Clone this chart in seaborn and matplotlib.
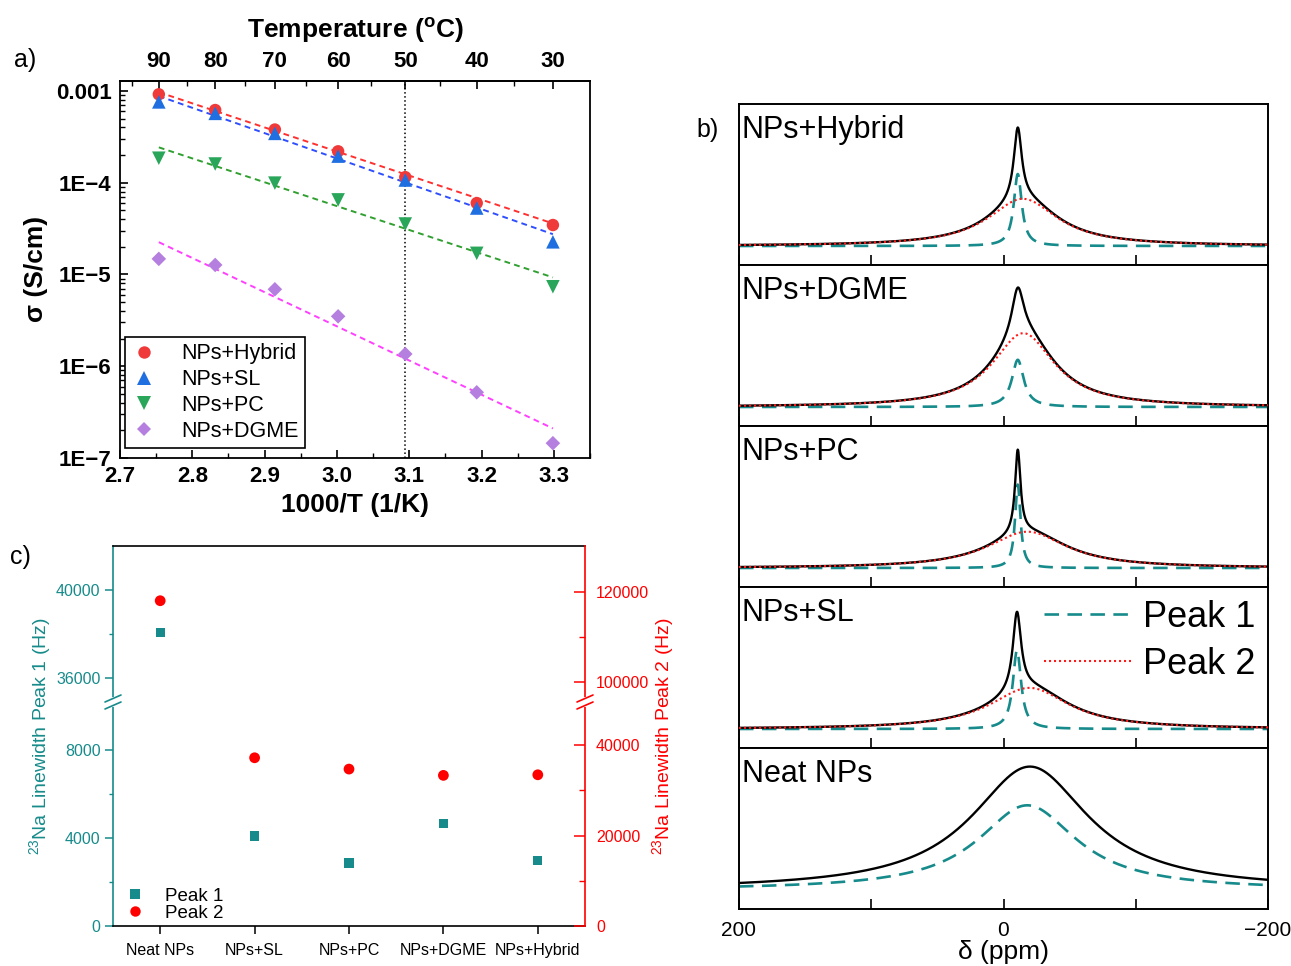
import numpy as np
import matplotlib
matplotlib.use("Agg")
import matplotlib.pyplot as plt
import seaborn as sns
from matplotlib.lines import Line2D

# ---------------- data ----------------
# panel a: conductivity vs 1000/T
temps_c = [90, 80, 70, 60, 50, 40, 30]
temps_minor_c = [95, 85, 75, 65, 55, 45, 35]
a_series = ["NPs+Hybrid", "NPs+SL", "NPs+PC", "NPs+DGME"]
sigma_hybrid = [9.2e-4, 6.2e-4, 3.8e-4, 2.2e-4, 1.15e-4, 6.0e-5, 3.46e-5]
sigma_sl = [7.6e-4, 5.7e-4, 3.45e-4, 1.95e-4, 1.07e-4, 5.3e-5, 2.27e-5]
sigma_pc = [1.85e-4, 1.6e-4, 9.9e-5, 6.5e-5, 3.55e-5, 1.7e-5, 7.35e-6]
sigma_dgme = [1.48e-5, 1.27e-5, 6.9e-6, 3.5e-6, 1.36e-6, 5.2e-7, 1.45e-7]
fit_start = [9.7e-4, 8.8e-4, 2.43e-4, 2.25e-5]   # fit value at 90 C
fit_end = [3.6e-5, 2.75e-5, 9.3e-6, 2.1e-7]      # fit value at 30 C
a_xticks = [2.7, 2.8, 2.9, 3.0, 3.1, 3.2, 3.3]
a_yticks = [1e-7, 1e-6, 1e-5, 1e-4, 1e-3]
a_yticklabels = ["1E\u22127", "1E\u22126", "1E\u22125", "1E\u22124", "0.001"]

# panel b: 23Na NMR line shapes (Lorentzian fit parameters)
spec_labels = ["NPs+Hybrid", "NPs+DGME", "NPs+PC", "NPs+SL", "Neat NPs"]
p1_center = [-10.8, -10.8, -10.8, -10.2, -18.0]
p1_fwhm = [7.3, 10.8, 5.0, 7.6, 91.0]
p1_height = [0.595, 0.39, 0.69, 0.65, 0.70]
p2_center = [-14.6, -15.0, -18.0, -19.6, np.nan]
p2_fwhm = [64.0, 57.0, 73.0, 73.0, np.nan]
p2_height = [0.39, 0.61, 0.30, 0.34, 0.0]
neat_obs_center, neat_obs_fwhm, neat_obs_height = -20.0, 108.0, 1.02
b_xticks = [200, 100, 0, -100, -200]
b_xticklabels = ["200", "", "0", "", "\u2212200"]

# panel c: linewidths
c_categories = ["Neat NPs", "NPs+SL", "NPs+PC", "NPs+DGME", "NPs+Hybrid"]
peak1_hz = [38060, 4090, 2870, 4665, 2990]
peak2_hz = [118000, 37190, 34690, 33300, 33430]

# ---------------- style ----------------
sns.set_theme(style="ticks")
plt.rcParams['font.family'] = ['Liberation Sans', 'DejaVu Sans']
plt.rcParams.update({
    'mathtext.fontset': 'custom',
    'mathtext.rm': 'Liberation Sans',
    'mathtext.it': 'Liberation Sans:italic',
    'mathtext.bf': 'Liberation Sans:bold',
    'axes.edgecolor': 'black',
    'xtick.color': 'black',
    'ytick.color': 'black',
    'text.color': 'black',
    'axes.labelcolor': 'black',
})

TEAL = '#178b8b'
RED = '#ff1a1a'

W, H = 1291, 966
fig = plt.figure(figsize=(W / 100, H / 100), dpi=100)


def fx(px):
    return px / W


def fy(py):
    return 1 - py / H


def rect(l, t, r, b):
    return [l / W, 1 - b / H, (r - l) / W, (b - t) / H]


# ================= panel a =================
axa = fig.add_axes(rect(120, 80.7, 590, 458))
invT = [1000.0 / (t + 273.15) for t in temps_c]
a_vals = [sigma_hybrid, sigma_sl, sigma_pc, sigma_dgme]
a_markers = ['o', '^', 'v', 'D']
a_mcolors = ['#f03a3a', '#1f6fe0', '#2aa65a', '#b57fe0']
a_lcolors = ['#ff3030', '#2f4fff', '#30a030', '#ff40ff']
a_sizes = [80, 95, 95, 55]

for i in range(len(a_series)):
    sns.lineplot(x=[invT[0], invT[-1]], y=[fit_start[i], fit_end[i]], ax=axa,
                 color=a_lcolors[i], lw=1.4, linestyle=(0, (3, 2.2)), zorder=2)
handles_a = []
for i, name in enumerate(a_series):
    sns.scatterplot(x=invT, y=a_vals[i], ax=axa, marker=a_markers[i],
                    color=a_mcolors[i], s=a_sizes[i], edgecolor='none', zorder=3)
    handles_a.append(Line2D([], [], ls='none', marker=a_markers[i], color=a_mcolors[i],
                            markersize=np.sqrt(a_sizes[i]), markeredgewidth=0))

axa.axvline(1000.0 / (50 + 273.15), color='black', ls=':', lw=1.1, zorder=1)
axa.set_yscale('log')
axa.set_xlim(2.7, 3.35)
axa.set_ylim(1e-7, 1.294e-3)
axa.set_yticks(a_yticks)
axa.set_yticklabels(a_yticklabels)
axa.yaxis.set_minor_locator(matplotlib.ticker.LogLocator(base=10, subs=np.arange(2, 10)))
axa.yaxis.set_minor_formatter(matplotlib.ticker.NullFormatter())
axa.set_xticks(a_xticks)
axa.set_xticklabels([f"{v:.1f}" for v in a_xticks])
axa.set_xticks([v + 0.05 for v in a_xticks[:-1]] + [3.35], minor=True)
axa.tick_params(axis='both', which='both', direction='in', top=False, right=False)
axa.tick_params(axis='both', which='major', length=6, width=1.2, labelsize=16, pad=6)
axa.tick_params(axis='both', which='minor', length=3.5, width=1.0)
for lab in axa.get_xticklabels() + axa.get_yticklabels():
    lab.set_fontweight('bold')
for s in axa.spines.values():
    s.set_linewidth(1.3)
axa.set_xlabel("1000/T (1/K)", fontsize=19, fontweight='bold', labelpad=4)
axa.set_ylabel("\u03c3 (S/cm)", fontsize=19, fontweight='bold', labelpad=6)


def inv2c(x):
    x = np.asarray(x, dtype=float)
    with np.errstate(divide='ignore', invalid='ignore'):
        return 1000.0 / x - 273.15


def c2inv(t):
    t = np.asarray(t, dtype=float)
    with np.errstate(divide='ignore', invalid='ignore'):
        return 1000.0 / (t + 273.15)


sec = axa.secondary_xaxis('top', functions=(inv2c, c2inv))
sec.set_xticks(temps_c)
sec.set_xticklabels([str(t) for t in temps_c])
sec.set_xticks(temps_minor_c, minor=True)
sec.tick_params(axis='x', which='both', direction='in')
sec.tick_params(axis='x', which='major', length=6, width=1.2, labelsize=16, pad=6)
sec.tick_params(axis='x', which='minor', length=3.5, width=1.0)
for lab in sec.get_xticklabels():
    lab.set_fontweight('bold')
sec.set_xlabel("Temperature ($\\mathbf{^{o}}$C)", fontsize=19, fontweight='bold', labelpad=10)

leg_a = axa.legend(handles=handles_a, labels=a_series, loc='lower left',
                   bbox_to_anchor=(fx(125), fy(448)), bbox_transform=fig.transFigure,
                   borderaxespad=0, frameon=True, fancybox=False, edgecolor='black',
                   framealpha=1, fontsize=15.5, handlelength=1.2, handletextpad=1.1,
                   labelspacing=0.22, borderpad=0.3)
leg_a.get_frame().set_linewidth(1.2)

fig.text(fx(25), fy(60), "a)", fontsize=18, ha='center', va='center')

# ================= panel b =================
b_top, b_bottom, b_left, b_right = 104, 909, 739, 1268
ph = (b_bottom - b_top) / 5
ppm = np.linspace(200, -200, 1601)


def lorentz(x, c, w, h):
    if not np.isfinite(c):
        return np.zeros_like(x)
    return h / (1 + ((x - c) / (w / 2.0)) ** 2)


axes_b = []
for i, name in enumerate(spec_labels):
    t = b_top + i * ph
    ax = fig.add_axes(rect(b_left, t, b_right, t + ph))
    axes_b.append(ax)
    p1 = lorentz(ppm, p1_center[i], p1_fwhm[i], p1_height[i])
    p2 = lorentz(ppm, p2_center[i], p2_fwhm[i], p2_height[i])
    if name == "Neat NPs":
        total = lorentz(ppm, neat_obs_center, neat_obs_fwhm, neat_obs_height)
    else:
        total = p1 + p2
    sns.lineplot(x=ppm, y=p1, ax=ax, color=TEAL, lw=1.9, linestyle=(0, (5.5, 3.2)),
                 sort=False, estimator=None, zorder=2)
    sns.lineplot(x=ppm, y=total, ax=ax, color='black', lw=1.7, sort=False,
                 estimator=None, zorder=3)
    if name != "Neat NPs":
        sns.lineplot(x=ppm, y=p2, ax=ax, color=RED, lw=1.5, linestyle=(0, (1, 1.4)),
                     sort=False, estimator=None, zorder=4)
    ax.set_xlim(200, -200)
    ax.set_ylim(-19 / 121, 142 / 121)
    ax.set_yticks([])
    ax.set_xticks(b_xticks)
    ax.tick_params(axis='x', direction='in', length=7, width=1.2, top=False,
                   labelsize=15, pad=9)
    if i == len(spec_labels) - 1:
        ax.set_xticklabels(b_xticklabels)
        ax.set_xlabel("\u03b4 (ppm)", fontsize=19, labelpad=0)
    else:
        ax.set_xticklabels([])
    for s in ax.spines.values():
        s.set_linewidth(1.4)
    ax.set_ylabel("")
    fig.text(fx(742), fy(t + 34), name, fontsize=22, ha='left', va='baseline')

leg_b = axes_b[3].legend(
    handles=[Line2D([], [], color=TEAL, lw=1.9, ls=(0, (5.5, 3.2))),
             Line2D([], [], color=RED, lw=1.5, ls=(0, (1, 1.4)))],
    labels=["Peak 1", "Peak 2"], loc='upper left',
    bbox_to_anchor=(fx(1044), fy(600)), bbox_transform=fig.transFigure,
    frameon=False, fontsize=26, handlelength=2.4, handletextpad=0.35,
    labelspacing=0.32, borderpad=0, borderaxespad=0)

fig.text(fx(708), fy(130), "b)", fontsize=18, ha='center', va='center')

# ================= panel c =================
c_x = np.arange(len(c_categories))
cb = fig.add_axes(rect(113, 702, 585, 926))
ct = fig.add_axes(rect(113, 546, 585, 702), sharex=cb)
cbr = cb.twinx()
ctr = ct.twinx()

for ax in (cb, ct):
    sns.scatterplot(x=c_x, y=peak1_hz, ax=ax, marker='s', color=TEAL, s=45,
                    edgecolor='none', zorder=3)
for ax in (cbr, ctr):
    sns.scatterplot(x=c_x, y=peak2_hz, ax=ax, marker='o', color='#ff0000', s=60,
                    edgecolor='none', zorder=3)

cb.set_xlim(-0.5, 4.5)
cb.set_ylim(0, 10190)
ct.set_ylim(34890, 42030)
cbr.set_ylim(0, 49520)
ctr.set_ylim(95490, 130160)

cb.set_yticks([0, 4000, 8000])
cb.set_yticks([2000, 6000], minor=True)
ct.set_yticks([36000, 40000])
ct.set_yticks([38000], minor=True)
cbr.set_yticks([0, 20000, 40000])
cbr.set_yticks([10000, 30000], minor=True)
ctr.set_yticks([100000, 120000])
ctr.set_yticks([110000], minor=True)

cb.set_xticks(c_x)
cb.set_xticklabels(c_categories)
cb.tick_params(axis='x', direction='out', length=6, width=1.1, labelsize=11.5, pad=6)
ct.tick_params(axis='x', bottom=False, labelbottom=False, top=False)

for ax in (cb, ct):
    ax.tick_params(axis='y', which='both', direction='out', colors=TEAL, labelsize=11.5,
                   pad=3)
    ax.tick_params(axis='y', which='major', length=6, width=1.1)
    ax.tick_params(axis='y', which='minor', length=3, width=1.0)
    ax.spines['left'].set_color(TEAL)
    ax.spines['right'].set_visible(False)
    ax.spines['left'].set_linewidth(1.2)
    ax.set_ylabel("")
for ax in (cbr, ctr):
    ax.tick_params(axis='y', which='both', direction='in', colors='#ff0000', labelsize=11.5,
                   pad=8)
    ax.tick_params(axis='y', which='major', length=8, width=1.1)
    ax.tick_params(axis='y', which='minor', length=4, width=1.0)
    ax.spines['right'].set_color('#ff0000')
    ax.spines['right'].set_linewidth(1.2)
    for side in ('left', 'top', 'bottom'):
        ax.spines[side].set_visible(False)
    ax.set_ylabel("")
cb.spines['top'].set_visible(False)
ct.spines['bottom'].set_visible(False)
cb.spines['bottom'].set_linewidth(1.2)
ct.spines['top'].set_linewidth(1.2)

# axis break marks
for xb, col in ((113, TEAL), (585, '#ff0000')):
    yb = 702
    fig.add_artist(Line2D([fx(xb), fx(xb)], [fy(yb - 3), fy(yb + 3)], color='white',
                          lw=3, transform=fig.transFigure))
    for off in (-3.5, 3.5):
        fig.add_artist(Line2D([fx(xb - 8), fx(xb + 8)], [fy(yb + off + 3.5), fy(yb + off - 3.5)],
                              color=col, lw=1.2, transform=fig.transFigure))

fig.text(fx(40), fy(736), "$^{23}$Na Linewidth Peak 1 (Hz)", color=TEAL, fontsize=14,
         rotation=90, ha='center', va='center')
fig.text(fx(663), fy(736), "$^{23}$Na Linewidth Peak 2 (Hz)", color='#ff0000', fontsize=14,
         rotation=90, ha='center', va='center')

cb.legend(handles=[Line2D([], [], ls='none', marker='s', color=TEAL, markersize=6.5,
                          markeredgewidth=0),
                   Line2D([], [], ls='none', marker='o', color='#ff0000', markersize=7.5,
                          markeredgewidth=0)],
          labels=["Peak 1", "Peak 2"], loc='lower left',
          bbox_to_anchor=(fx(126), fy(922)), bbox_transform=fig.transFigure,
          frameon=False, fontsize=13.5, handlelength=1.0, handletextpad=1.1,
          labelspacing=0.0, borderpad=0, borderaxespad=0)

fig.text(fx(20), fy(557), "c)", fontsize=18, ha='center', va='center')

fig.savefig("out.png", dpi=100)
